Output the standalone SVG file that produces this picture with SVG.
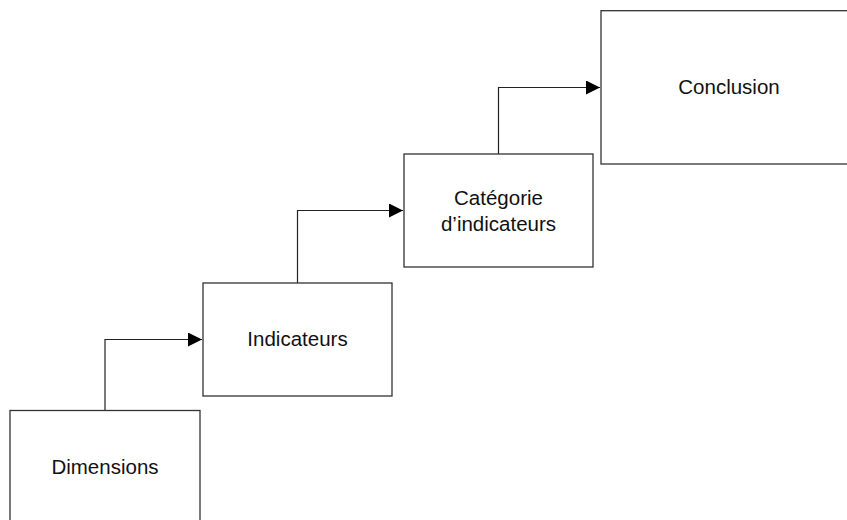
<svg xmlns="http://www.w3.org/2000/svg" width="847" height="520" viewBox="0 0 847 520">
<style>
.box{fill:#fff;stroke:#333;stroke-width:1.3}
.lbl{font-family:"Liberation Sans",Arial,sans-serif;font-size:20.5px;fill:#111;text-anchor:middle}
.conn{fill:none;stroke:#222;stroke-width:1.2}
</style>
<defs>
<marker id="arr" markerUnits="userSpaceOnUse" markerWidth="15" markerHeight="14" refX="14" refY="7" orient="auto">
<path d="M0,0 L14,7 L0,14 Z" fill="#000"/>
</marker>
</defs>
<rect width="847" height="520" fill="#fff"/>
<g id="connectors">
<path class="conn" d="M105,410.5 V339.5 H202" marker-end="url(#arr)"/>
<path class="conn" d="M297.5,283 V210.5 H403" marker-end="url(#arr)"/>
<path class="conn" d="M498.5,154 V87.5 H600" marker-end="url(#arr)"/>
</g>
<g id="dimensions">
<rect class="box" x="10" y="410.5" width="190" height="115"/>
<text class="lbl" x="105" y="474">Dimensions</text>
</g>
<g id="indicateurs">
<rect class="box" x="203" y="283" width="189" height="113"/>
<text class="lbl" x="297.5" y="346">Indicateurs</text>
</g>
<g id="categorie">
<rect class="box" x="404" y="154" width="189" height="113"/>
<text class="lbl" x="498.5" y="205">Catégorie</text>
<text class="lbl" x="498.5" y="230.5">d’indicateurs</text>
</g>
<g id="conclusion">
<rect class="box" x="601" y="10.7" width="260" height="153.3"/>
<text class="lbl" x="729" y="94">Conclusion</text>
</g>
</svg>
